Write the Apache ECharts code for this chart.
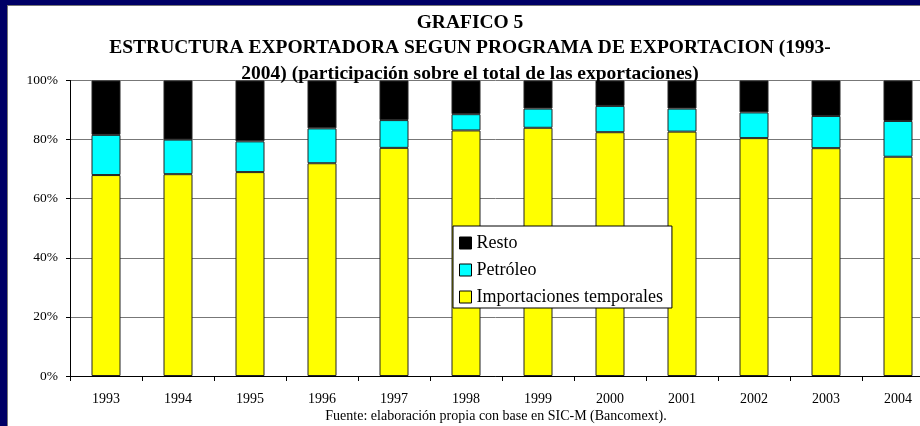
<!DOCTYPE html>
<html>
<head>
<meta charset="utf-8">
<script src="https://cdn.jsdelivr.net/npm/echarts@6/dist/echarts.min.js"></script>
<style>
  html, body { margin: 0; padding: 0; background: #000066; width: 920px; height: 426px; overflow: hidden; }
  #chart { position: absolute; left: 7px; top: 5px; width: 913px; height: 421px; background: #fff;
           border-top: 1px solid #777; border-left: 1px solid #777; box-sizing: border-box; }
</style>
</head>
<body>
<div id="chart"></div>
<script>
  // años
  var years = ['1993', '1994', '1995', '1996', '1997', '1998', '1999', '2000', '2001', '2002', '2003', '2004']
  // participación (%) sobre el total de las exportaciones
  var importacionesTemporales = [68.0, 68.3, 69.0, 72.0, 77.2, 83.1, 84.0, 82.5, 82.7, 80.5, 77.1, 74.2]
  var petroleo = [13.6, 11.7, 10.4, 11.8, 9.4, 5.5, 6.5, 8.9, 7.8, 8.7, 10.9, 12.1]
  var resto = [18.4, 20.0, 20.6, 16.2, 13.4, 11.4, 9.5, 8.6, 9.5, 10.8, 12.0, 13.7]
  var yTicks = [0, 20, 40, 60, 80, 100]

  var serif = '"Liberation Serif", "Times New Roman", serif'

  var chart = echarts.init(document.getElementById('chart'), null, { renderer: 'canvas' })

  function barStyle(color) {
    return {
      color: color,
      borderColor: '#222',
      borderWidth: 1
    }
  }

  chart.setOption({
    animation: false,
    title: {
      text: 'GRAFICO 5\nESTRUCTURA EXPORTADORA SEGUN PROGRAMA DE EXPORTACION (1993-\n2004) (participación sobre el total de las exportaciones)',
      left: 462,
      top: 4,
      textAlign: 'center',
      padding: 0,
      textStyle: {
        fontFamily: serif,
        fontWeight: 'bold',
        fontSize: 19.5,
        lineHeight: 25.5,
        color: '#000'
      },
      z: 10
    },
    legend: {
      data: ['Resto', 'Petróleo', 'Importaciones temporales'],
      orient: 'vertical',
      left: 445,
      top: 220,
      itemWidth: 12,
      itemHeight: 12,
      itemGap: 9,
      icon: 'rect',
      padding: [8, 9, 2, 6],
      backgroundColor: '#fff',
      borderColor: '#000',
      borderWidth: 1,
      borderRadius: 0,
      textStyle: {
        fontFamily: serif,
        fontSize: 18,
        lineHeight: 18,
        color: '#000'
      },
      itemStyle: {
        borderColor: '#000',
        borderWidth: 1
      }
    },
    grid: {
      left: 62,
      top: 74.5,
      bottom: 50,
      width: 864,
      outerBoundsMode: 'none',
      containLabel: false
    },
    xAxis: {
      type: 'category',
      data: years,
      boundaryGap: true,
      axisLine: { lineStyle: { color: '#000', width: 1 } },
      axisTick: { show: true, length: 5, lineStyle: { color: '#000' } },
      axisLabel: {
        margin: 16,
        fontFamily: serif,
        fontSize: 14,
        color: '#000'
      }
    },
    yAxis: {
      type: 'value',
      min: yTicks[0],
      max: yTicks[yTicks.length - 1],
      interval: 20,
      axisLine: { show: true, lineStyle: { color: '#000', width: 1 } },
      axisTick: { show: true, inside: false, length: 4, lineStyle: { color: '#000' } },
      axisLabel: {
        margin: 12,
        fontFamily: serif,
        fontSize: 13.5,
        color: '#000',
        formatter: '{value}%'
      },
      splitLine: { show: true, lineStyle: { color: '#777', width: 1 } }
    },
    series: [
      {
        name: 'Importaciones temporales',
        type: 'bar',
        stack: 'total',
        barWidth: 29,
        data: importacionesTemporales,
        itemStyle: barStyle('#ffff00')
      },
      {
        name: 'Petróleo',
        type: 'bar',
        stack: 'total',
        barWidth: 29,
        data: petroleo,
        itemStyle: barStyle('#00ffff')
      },
      {
        name: 'Resto',
        type: 'bar',
        stack: 'total',
        barWidth: 29,
        data: resto,
        itemStyle: barStyle('#000000')
      }
    ],
    graphic: [
      {
        type: 'text',
        x: 488,
        y: 410,
        style: {
          text: 'Fuente: elaboración propia con base en SIC-M (Bancomext).',
          fontFamily: serif,
          fontSize: 14,
          fill: '#000',
          textAlign: 'center',
          textVerticalAlign: 'middle'
        }
      }
    ]
  })
</script>
</body>
</html>
